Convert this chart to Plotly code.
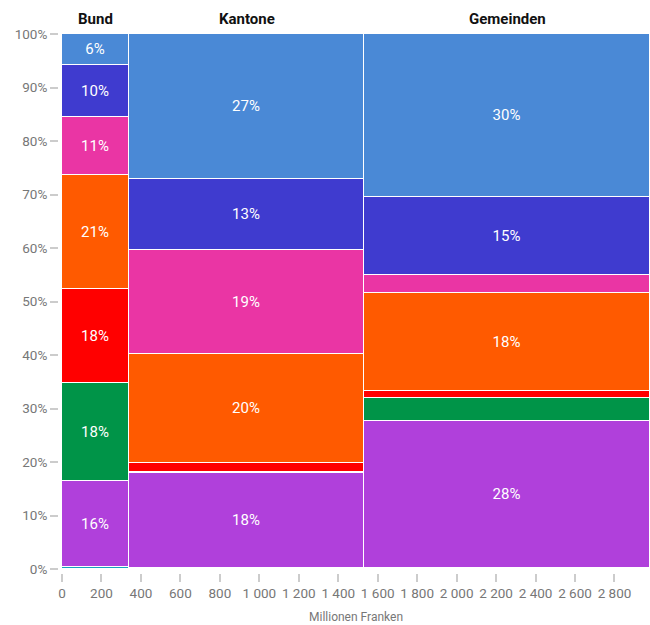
import plotly.graph_objects as go

# Columns of the mosaic: level of government and its total (Millionen Franken)
levels = ["Bund", "Kantone", "Gemeinden"]
totals = [341, 1191, 1448]

# Stack order (bottom to top) and share of each category within a column, in %
categories = ["Sonstige", "Kat. A", "Kat. B", "Kat. C", "Kat. D", "Kat. E", "Kat. F", "Kat. G"]
colors = ["#17a2be", "#b040db", "#009448", "#ff0000", "#ff5a00", "#ea35a4", "#3f3bcf", "#4a89d6"]
share_bund = [0.4, 16.0, 18.4, 17.6, 21.3, 10.8, 9.8, 5.7]
share_kantone = [0.1, 17.8, 0.2, 1.7, 20.4, 19.4, 13.3, 27.1]
share_gemeinden = [0.1, 27.6, 4.2, 1.3, 18.4, 3.4, 14.6, 30.4]

x_ticks = list(range(0, 2801, 200))
y_ticks = list(range(0, 101, 10))
y_tick_labels = [f"{v}%" for v in y_ticks]

shares = [share_bund, share_kantone, share_gemeinden]

# column positions derived from the totals
lefts = []
acc = 0
for t in totals:
    lefts.append(acc)
    acc += t
centers = [l + t / 2 for l, t in zip(lefts, totals)]
x_max = acc

fig = go.Figure()
for i, (cat, col) in enumerate(zip(categories, colors)):
    vals = [s[i] for s in shares]
    labels = [f"{v:.0f}%" if v >= 5 else "" for v in vals]
    fig.add_trace(go.Bar(
        x=centers, y=vals, width=totals, name=cat,
        marker=dict(color=col, line=dict(color="white", width=1)),
        text=labels, textposition="inside", insidetextanchor="middle",
        textangle=0, constraintext="none",
        textfont=dict(color="white", size=15, family="Roboto"),
        hoverinfo="skip",
    ))

W, H = 650, 625
ml, mt, mb = 58, 34, 52
plot_w = W - ml
plot_h = H - mt - mb
gap = 4

for name, c in zip(levels, centers):
    fig.add_annotation(
        x=c, xref="x", y=1, yref="paper", yanchor="bottom", yshift=4,
        text=f"<b>{name}</b>", showarrow=False,
        font=dict(size=15, color="#111111", family="Roboto"),
    )

fig.add_annotation(
    x=(gap / plot_w + 1) / 2, xref="paper", y=-35 / plot_h, yref="paper",
    yanchor="top", text="Millionen Franken", showarrow=False,
    font=dict(size=12, color="#777777", family="Roboto"),
)

fig.update_layout(
    width=W, height=H, barmode="stack", bargap=0, showlegend=False,
    margin=dict(l=ml, r=0, t=mt, b=mb, pad=0),
    plot_bgcolor="white", paper_bgcolor="white",
    separators=". ",
    font=dict(family="Roboto", color="#777777", size=13),
    xaxis=dict(
        range=[0, x_max], domain=[gap / plot_w, 1],
        anchor="free", position=0,
        tickvals=x_ticks, tickformat=",d",
        ticks="outside", ticklen=8, tickwidth=2, tickcolor="#cccccc",
        showgrid=False, zeroline=False, showline=False,
        tickfont=dict(size=13.5, color="#777777"),
    ),
    yaxis=dict(
        range=[0, 100], domain=[gap / plot_h, 1],
        anchor="free", position=0,
        tickmode="array", tickvals=y_ticks, ticktext=y_tick_labels,
        ticks="outside", ticklen=8, tickwidth=2, tickcolor="#cccccc",
        showgrid=False, zeroline=False, showline=False,
        tickfont=dict(size=13.5, color="#777777"),
    ),
)

fig.write_html("out.html")
